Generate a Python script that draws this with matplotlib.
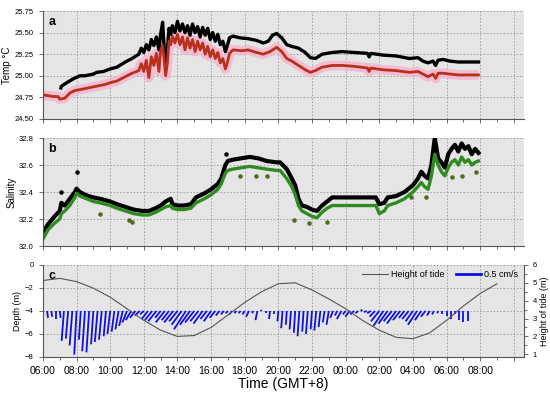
import matplotlib.pyplot as plt
from matplotlib.collections import LineCollection
from matplotlib.lines import Line2D

plt.rcParams['font.family'] = ['Liberation Sans', 'DejaVu Sans']

# =========================
# Data (hours after 06:00)
# =========================
temp1_t = [1.07, 1.1, 1.5, 1.85, 2.2, 2.5, 3.0, 3.2, 3.6, 4.0, 4.4, 4.9, 5.3,
           5.7, 5.85, 6.0, 6.15, 6.3, 6.45, 6.6, 6.75, 6.9, 7.0, 7.12, 7.2, 7.3, 7.4,
           7.5, 7.6, 7.7, 7.85, 8.0, 8.15, 8.3, 8.45, 8.6, 8.75, 8.9, 9.05, 9.2, 9.35,
           9.5, 9.65, 9.8, 9.95, 10.1, 10.25, 10.4, 10.55, 10.7, 10.85, 10.95, 11.1,
           11.3, 11.7, 12.2, 12.7, 13.1, 13.4, 13.65, 13.9, 14.2, 14.5, 14.8, 15.2,
           15.6, 15.9, 16.2, 16.6, 17.2, 17.8, 18.5, 19.3, 19.4, 19.5, 20.2, 21.0,
           21.8, 22.3, 22.6, 22.9, 23.2, 23.35, 23.5, 23.8, 24.2, 24.7, 25.4, 25.9]
temp1 = [24.86, 24.88, 24.93, 24.97, 25.00, 25.00, 25.02, 25.04, 25.05, 25.08, 25.10,
         25.16, 25.20,
         25.25, 25.32, 25.27, 25.36, 25.30, 25.42, 25.35, 25.45, 25.30, 25.48, 25.62,
         25.35, 25.10, 25.30, 25.55, 25.48, 25.58, 25.50, 25.63, 25.52, 25.60, 25.50,
         25.58, 25.47, 25.60, 25.50, 25.57, 25.45, 25.56, 25.47, 25.55, 25.42, 25.50,
         25.40, 25.48, 25.36, 25.40, 25.28, 25.34, 25.44,
         25.46, 25.44, 25.43, 25.41, 25.38, 25.40, 25.47, 25.49, 25.44, 25.36, 25.34,
         25.32, 25.27, 25.21, 25.20, 25.25, 25.27, 25.28, 25.27, 25.26, 25.22, 25.26,
         25.24, 25.23, 25.20, 25.21, 25.17, 25.15, 25.17, 25.12, 25.18, 25.19, 25.17,
         25.16, 25.16, 25.16]

temp2_t = [0.0, 0.3, 0.6, 0.9, 1.0, 1.3, 1.6, 1.9, 2.2, 2.7, 3.2, 3.7, 4.0, 4.4,
           4.9, 5.3,
           5.7, 5.85, 6.0, 6.15, 6.3, 6.45, 6.6, 6.75, 6.9, 7.0, 7.12, 7.2, 7.3, 7.4,
           7.5, 7.6, 7.7, 7.85, 8.0, 8.15, 8.3, 8.45, 8.6, 8.75, 8.9, 9.05, 9.2, 9.35,
           9.5, 9.65, 9.8, 9.95, 10.1, 10.25, 10.4, 10.55, 10.7, 10.85, 10.95, 11.1,
           11.3, 11.8, 12.2, 12.7, 13.1, 13.5, 13.9, 14.2, 14.5, 14.8, 15.2, 15.6,
           15.9, 16.2, 16.6, 17.2, 17.8, 18.5, 19.3, 19.4, 19.5, 20.2, 21.0, 21.8,
           22.3, 22.6, 22.9, 23.2, 23.35, 23.5, 23.8, 24.2, 24.7, 25.4, 25.9]
temp2 = [24.78, 24.77, 24.76, 24.76, 24.73, 24.74, 24.80, 24.83, 24.84, 24.86, 24.88,
         24.90, 24.92, 24.94, 24.99, 25.03,
         25.06, 25.14, 25.05, 25.18, 24.98, 25.22, 25.12, 25.26, 25.05, 25.30, 25.35,
         25.20, 25.00, 25.15, 25.40, 25.36, 25.46, 25.38, 25.48, 25.36, 25.45, 25.30,
         25.44, 25.32, 25.42, 25.28, 25.40, 25.30, 25.38, 25.25, 25.34, 25.22, 25.30,
         25.20, 25.27, 25.15, 25.20, 25.08, 25.14, 25.26,
         25.30, 25.29, 25.30, 25.27, 25.25, 25.28, 25.33, 25.28, 25.20, 25.17, 25.12,
         25.07, 25.04, 25.06, 25.10, 25.12, 25.12, 25.11, 25.09, 25.05, 25.09, 25.07,
         25.06, 25.04, 25.05, 25.02, 24.99, 25.02, 24.97, 25.03, 25.03, 25.02, 25.01,
         25.01, 25.01]

sal_t = [0.0, 0.3, 0.7, 1.0, 1.1, 1.3, 1.6, 1.9, 2.0, 2.2, 2.6, 3.0, 3.4, 4.0, 4.4,
         4.9, 5.4, 5.9, 6.3, 6.7, 7.0, 7.3, 7.6, 7.7, 8.0, 8.4, 8.8, 9.1, 9.6, 10.0,
         10.4, 10.6, 10.85, 11.0, 11.3, 11.8, 12.3, 12.8, 13.3, 13.9, 14.1, 14.5,
         14.8, 15.0, 15.2, 15.4, 15.7, 16.0, 16.3, 16.6, 16.9, 17.2, 18.0, 19.0,
         19.8, 20.0, 20.3, 20.5, 21.0, 21.5, 22.0, 22.3, 22.5, 22.7, 22.9, 23.1,
         23.3, 23.5, 23.7, 23.9, 24.1, 24.3, 24.5, 24.7, 24.9, 25.1, 25.3, 25.5,
         25.7, 25.9]
sal1 = [32.10, 32.16, 32.22, 32.26, 32.32, 32.30, 32.35, 32.40, 32.425, 32.40, 32.375,
        32.36, 32.35, 32.33, 32.31, 32.29, 32.27, 32.26, 32.26, 32.28, 32.30, 32.33,
        32.35, 32.31, 32.30, 32.30, 32.31, 32.36, 32.39, 32.42, 32.46, 32.50, 32.60,
        32.63, 32.64, 32.65, 32.66, 32.65, 32.63, 32.62, 32.62, 32.57, 32.50, 32.45,
        32.35, 32.30, 32.29, 32.27, 32.26, 32.30, 32.33, 32.36, 32.36, 32.36, 32.36,
        32.31, 32.32, 32.36, 32.37, 32.40, 32.45, 32.50, 32.55, 32.52, 32.50, 32.60,
        32.80, 32.65, 32.62, 32.58, 32.68, 32.72, 32.75, 32.70, 32.76, 32.72, 32.74,
        32.68, 32.72, 32.69]
sal2 = [32.05, 32.12, 32.17, 32.20, 32.24, 32.26, 32.30, 32.36, 32.39, 32.37, 32.35,
        32.33, 32.32, 32.30, 32.28, 32.26, 32.24, 32.23, 32.23, 32.25, 32.27, 32.29,
        32.30, 32.28, 32.27, 32.27, 32.28, 32.32, 32.35, 32.38, 32.42, 32.46, 32.54,
        32.56, 32.57, 32.58, 32.59, 32.58, 32.57, 32.56, 32.56, 32.50, 32.44, 32.38,
        32.30, 32.26, 32.24, 32.22, 32.21, 32.25, 32.28, 32.30, 32.30, 32.30, 32.30,
        32.24, 32.26, 32.30, 32.32, 32.35, 32.40, 32.44, 32.47, 32.44, 32.42, 32.52,
        32.68, 32.60, 32.55, 32.52, 32.58, 32.62, 32.64, 32.60, 32.66, 32.62, 32.64,
        32.60, 32.62, 32.63]

sal1_out_t = [1.1, 2.0, 10.9]
sal1_out = [32.40, 32.55, 32.68]
sal2_out_t = [3.4, 5.1, 5.3, 11.7, 12.7, 13.3, 14.96, 15.85, 16.9, 21.9, 22.8, 24.3,
              24.9, 25.76]
sal2_out = [32.24, 32.19, 32.18, 32.52, 32.52, 32.52, 32.19, 32.17, 32.18, 32.36,
            32.36, 32.51, 32.52, 32.55]

tide_t = list(range(28))
tide_h = [5.13, 5.25, 5.07, 4.70, 4.20, 3.55, 2.90, 2.35, 2.00, 2.05, 2.50, 3.20,
          3.90, 4.50, 4.95, 5.00, 4.60, 4.10, 3.55, 2.90, 2.35, 1.95, 1.87, 2.20,
          2.90, 3.70, 4.40, 4.95]

# current sticks, every 15 min from 06:00 (cm/s)
cur_t = [i * 0.25 for i in range(102)]
cur_v = [-0.225, -0.15, -0.125, -0.175, -0.15, -0.65, -0.6, -0.75, -0.95, -0.625,
         -0.875, -0.9, -0.725, -0.675, -0.625, -0.55, -0.5, -0.45, -0.4, -0.325,
         -0.25, -0.2, -0.15, -0.1, -0.075, -0.175, -0.2, -0.225, -0.15, -0.25,
         -0.2, -0.25, -0.225, -0.3, -0.4, -0.3, -0.25, -0.225, -0.275, -0.175,
         -0.225, -0.15, -0.1, -0.075, -0.05, -0.075, -0.05, -0.05, -0.075, -0.125,
         -0.05, -0.2, 0.025, -0.05, -0.175, -0.075, -0.225, -0.375, -0.3, -0.4,
         -0.475, -0.55, -0.45, -0.5, -0.4, -0.425, -0.35, -0.25, -0.3, -0.15,
         -0.1, -0.175, -0.075, -0.125, -0.075, -0.05, 0.025, -0.025, -0.05, -0.125,
         -0.225, -0.325, -0.275, -0.225, -0.275, -0.2, -0.15, -0.175, -0.225, -0.3,
         -0.2, -0.125, -0.1, -0.075, -0.05, -0.075, -0.1, -0.175, -0.075, -0.2,
         -0.25, -0.225]
cur_u = [0.0, 0.02, 0.02, 0.0, 0.02, -0.05, -0.05, -0.06, -0.05, -0.04,
         -0.06, -0.06, -0.05, -0.06, -0.06, -0.05, -0.06, -0.06, -0.07, -0.08,
         -0.1, -0.12, -0.12, -0.1, -0.08, -0.14, -0.16, -0.18, -0.12, -0.2,
         -0.16, -0.2, -0.18, -0.22, -0.26, -0.22, -0.2, -0.18, -0.2, -0.14,
         -0.16, -0.12, -0.08, -0.06, -0.05, -0.06, -0.04, -0.04, -0.05, -0.06,
         -0.02, -0.04, -0.02, 0.0, -0.02, 0.0, -0.02, -0.03, -0.02, -0.03,
         -0.03, -0.04, -0.03, -0.04, -0.03, -0.04, -0.04, -0.04, -0.05, -0.06,
         -0.05, -0.1, -0.06, -0.1, -0.08, -0.06, -0.04, -0.06, -0.08, -0.12,
         -0.18, -0.22, -0.2, -0.18, -0.2, -0.16, -0.12, -0.14, -0.16, -0.2,
         -0.14, -0.1, -0.06, -0.04, -0.02, 0.0, 0.0, 0.0, 0.0, 0.0,
         0.0, 0.0]

xtick_labels = ["06:00", "08:00", "10:00", "12:00", "14:00", "16:00", "18:00",
                "20:00", "22:00", "00:00", "02:00", "04:00", "06:00", "08:00", ""]

# =========================
# Figure
# =========================
fig = plt.figure(figsize=(5.5, 3.94), dpi=100)
L, W = 0.078, 0.8745
ax_a = fig.add_axes([L, 0.698, W, 0.274])
ax_b = fig.add_axes([L, 0.3756, W, 0.274])
ax_c = fig.add_axes([L, 0.094, W, 0.2335])

bg = "#e5e5e5"
for ax in (ax_a, ax_b, ax_c):
    ax.set_facecolor(bg)
    ax.set_xlim(0, 28.6)
    ax.set_xticks(range(0, 29, 2))
    ax.set_xticks(range(0, 29), minor=True)
    ax.grid(True, ls=(0, (2, 2)), color="#9a9a9a", lw=0.6)
    ax.set_axisbelow(True)
    for s in ("top", "right"):
        ax.spines[s].set_visible(False)
    for s in ("left", "bottom"):
        ax.spines[s].set_color("#555555")
        ax.spines[s].set_linewidth(0.8)
    ax.tick_params(which="both", direction="out", length=3, width=0.6,
                   color="#555555", labelsize=5.5)
    ax.tick_params(which="minor", length=2)

# ---- panel a
ax_a.plot(temp2_t, temp2, color="#f5b5cf", lw=7, alpha=0.85, solid_capstyle="butt")
ax_a.plot(temp1_t, temp1, color="black", lw=2.4)
ax_a.plot(temp2_t, temp2, color="#b8301c", lw=2.0)
ax_a.set_ylim(24.5, 25.75)
ax_a.set_yticks([24.5, 24.75, 25.0, 25.25, 25.5, 25.75])
ax_a.set_yticklabels(["24.50", "24.75", "25.00", "25.25", "25.50", "25.75"])
ax_a.set_xticklabels([])
ax_a.set_ylabel("Temp °C", fontsize=7, labelpad=2)
ax_a.text(0.012, 0.95, "a", transform=ax_a.transAxes, fontsize=9,
          fontweight="bold", va="top")

# ---- panel b
ax_b.plot(sal_t, sal1, color="black", lw=3.0)
ax_b.plot(sal_t, sal2, color="#2e8b1f", lw=2.4)
ax_b.scatter(sal1_out_t, sal1_out, s=5, color="black", zorder=3)
ax_b.scatter(sal2_out_t, sal2_out, s=5, color="#4f6b1c", zorder=3)
ax_b.set_ylim(32.0, 32.8)
ax_b.set_yticks([32.0, 32.2, 32.4, 32.6, 32.8])
ax_b.set_xticklabels([])
ax_b.set_ylabel("Salinity", fontsize=7, labelpad=2)
ax_b.text(0.012, 0.95, "b", transform=ax_b.transAxes, fontsize=9,
          fontweight="bold", va="top")

# ---- panel c
base_depth = -4
kx, ky = 2.72, 4.0  # hours and metres per cm/s
segs = [[(t, base_depth), (t + u * kx, base_depth + v * ky)]
        for t, u, v in zip(cur_t, cur_u, cur_v)]
ax_c.add_collection(LineCollection(segs, colors="#1010e0", linewidths=1.3))
ax_c.set_ylim(-8, 0)
ax_c.set_yticks([0, -2, -4, -6, -8])
ax_c.set_ylabel("Depth (m)", fontsize=6.5, labelpad=2)
ax_c.set_xticklabels(xtick_labels, fontsize=7.5)
ax_c.set_xlabel("Time (GMT+8)", fontsize=10, labelpad=1)
ax_c.text(0.012, 0.95, "c", transform=ax_c.transAxes, fontsize=9,
          fontweight="bold", va="top")

ax_t = ax_c.twinx()
ax_t.plot(tide_t, tide_h, color="#555555", lw=0.8)
ax_t.set_ylim(0.85, 6.0)
ax_t.set_yticks([1, 2, 3, 4, 5, 6])
ax_t.set_ylabel("Height of tide (m)", fontsize=6.5, labelpad=2)
for s in ("top", "left", "bottom"):
    ax_t.spines[s].set_visible(False)
ax_t.spines["right"].set_color("#555555")
ax_t.spines["right"].set_linewidth(0.8)
ax_t.tick_params(direction="out", length=3, width=0.6, color="#555555",
                 labelsize=5.5)
ax_t.set_yticks([1.5, 2.5, 3.5, 4.5, 5.5], minor=True)
ax_t.tick_params(which="minor", length=2, width=0.6, color="#555555")

handles = [Line2D([], [], color="#555555", lw=0.8),
           Line2D([], [], color="#1010e0", lw=2)]
ax_t.legend(handles, ["Height of tide", "0.5 cm/s"], loc="upper right", ncol=2,
            frameon=False, fontsize=6.5, handlelength=2.8, columnspacing=1.2,
            borderaxespad=0.2, handletextpad=0.4)

plt.savefig("out.png", dpi=100)
